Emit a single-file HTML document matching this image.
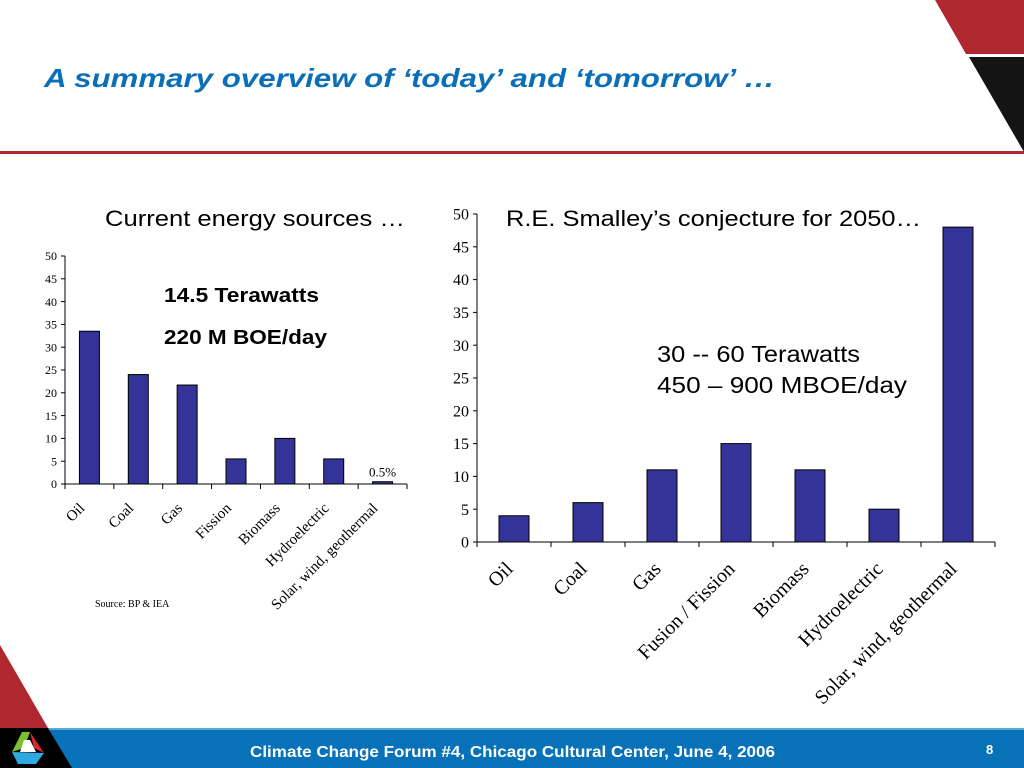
<!DOCTYPE html>
<html><head><meta charset="utf-8"><style>
body{margin:0;width:1024px;height:768px;overflow:hidden;background:#fff;position:relative;font-family:"Liberation Sans",sans-serif}
</style></head><body>
<svg width="1024" height="768" style="position:absolute;left:0;top:0">
<polygon points="935,0 1024,0 1024,54 966,54" fill="#b0282f"/>
<polygon points="969,57 1024,57 1024,152" fill="#141414"/>
<rect x="0" y="151" width="1024" height="3" fill="#b0282f"/>
<polygon points="0,645 0,728 48,728" fill="#b0282f"/>
<rect x="0" y="728" width="1024" height="40" fill="#0872b9"/>
<rect x="0" y="728" width="1024" height="2" fill="#5aa7dc"/>
<polygon points="0,728 48,728 72,768 0,768" fill="#000"/>
<polygon points="22,732 30,732 24,748 12,752" fill="#7dbf2a"/>
<polygon points="30,732 44,753 34,748" fill="#e0262d"/>
<polygon points="12,752 44,753 36,764 18,764" fill="#2fa9e0"/>
<polygon points="24,740 30,740 36,752 20,752" fill="#fff"/>
<text x="44" y="87" font-size="26" font-weight="bold" font-style="italic" fill="#0a6fb7" textLength="731" lengthAdjust="spacingAndGlyphs">A summary overview of ‘today’ and ‘tomorrow’ …</text>
<text x="250" y="757" font-size="16" font-weight="bold" fill="#fff" textLength="525" lengthAdjust="spacingAndGlyphs">Climate Change Forum #4, Chicago Cultural Center, June 4, 2006</text>
<text x="986" y="754" font-size="13" font-weight="bold" fill="#fff">8</text>
<text x="105" y="226" font-size="22" fill="#000" textLength="300" lengthAdjust="spacingAndGlyphs">Current energy sources …</text>
<text x="506" y="226" font-size="22" fill="#000" textLength="415" lengthAdjust="spacingAndGlyphs">R.E. Smalley’s conjecture for 2050…</text>
<text x="164" y="302" font-size="20" font-weight="bold" fill="#000" textLength="155" lengthAdjust="spacingAndGlyphs">14.5 Terawatts</text>
<text x="164" y="344" font-size="20" font-weight="bold" fill="#000" textLength="163" lengthAdjust="spacingAndGlyphs">220 M BOE/day</text>
<text x="657" y="362" font-size="23" fill="#000" textLength="203" lengthAdjust="spacingAndGlyphs">30 -- 60 Terawatts</text>
<text x="657" y="393" font-size="23" fill="#000" textLength="250" lengthAdjust="spacingAndGlyphs">450 – 900  MBOE/day</text>
<text x="95" y="607" font-size="10" font-family="Liberation Serif" fill="#000">Source: BP &amp; IEA</text>
<g id="left"></g><g id="right"></g>
</svg>
<script>
const leftCats=["Oil","Coal","Gas","Fission","Biomass","Hydroelectric","Solar, wind, geothermal"];
const leftVals=[33.5,24,21.7,5.5,10,5.5,0.5];
const rightCats=["Oil","Coal","Gas","Fusion / Fission","Biomass","Hydroelectric","Solar, wind, geothermal"];
const rightVals=[4,6,11,15,11,5,48];
const yTicks=[0,5,10,15,20,25,30,35,40,45,50];
const NS="http://www.w3.org/2000/svg";
function mk(g,tag,a){const e=document.createElementNS(NS,tag);for(const k in a)e.setAttribute(k,a[k]);g.appendChild(e);return e;}
function chart(gid,cats,vals,x0,x1,y0,y1,bw,tf,lf,pre,ox,oy){
  const g=document.getElementById(gid);
  const ys=v=>y0-(v/50)*(y0-y1);
  const cw=(x1-x0)/cats.length;
  const xs=i=>x0+cw*(i+0.5);
  let e=mk(g,'line',{x1:x0,y1:y0,x2:x0,y2:y1,stroke:'#000'});
  
  e=mk(g,'line',{x1:x0,y1:y0,x2:x1,y2:y0,stroke:'#000'});
  
  yTicks.forEach(t=>{
    mk(g,'line',{x1:x0-4,y1:ys(t),x2:x0,y2:ys(t),stroke:'#000'});
    const tx=mk(g,'text',{x:x0-8,y:ys(t)+tf*0.35,'font-size':tf,'font-family':'Liberation Serif','text-anchor':'end'});
    tx.textContent=t;
    
    
  });
  for(let i=0;i<=cats.length;i++)mk(g,'line',{x1:x0+cw*i,y1:y0,x2:x0+cw*i,y2:y0+5,stroke:'#000'});
  cats.forEach((c,i)=>{
    const b=mk(g,'rect',{x:xs(i)-bw/2,y:ys(vals[i]),width:bw,height:y0-ys(vals[i]),fill:'#333399',stroke:'#000','stroke-width':1});
    
    
    const lx=xs(i)+ox, ly=y0+oy;
    const t=mk(g,'text',{x:lx,y:ly,'font-size':lf,'font-family':'Liberation Serif','text-anchor':'end',transform:`rotate(-45 ${lx} ${ly})`});
    t.textContent=c;
    
    
  });
  return {xs,ys};
}
const L=chart('left',leftCats,leftVals,65,407,484,256,20,12,15,'left',-4,25);
chart('right',rightCats,rightVals,477,995,542,214,30,16,20,'right',0,28);
const pl=mk(document.getElementById('left'),'text',{x:L.xs(6),y:L.ys(leftVals[6])-5,'font-size':13,'font-family':'Liberation Serif','text-anchor':'middle'});
pl.textContent='0.5%';


</script>
</body></html>
